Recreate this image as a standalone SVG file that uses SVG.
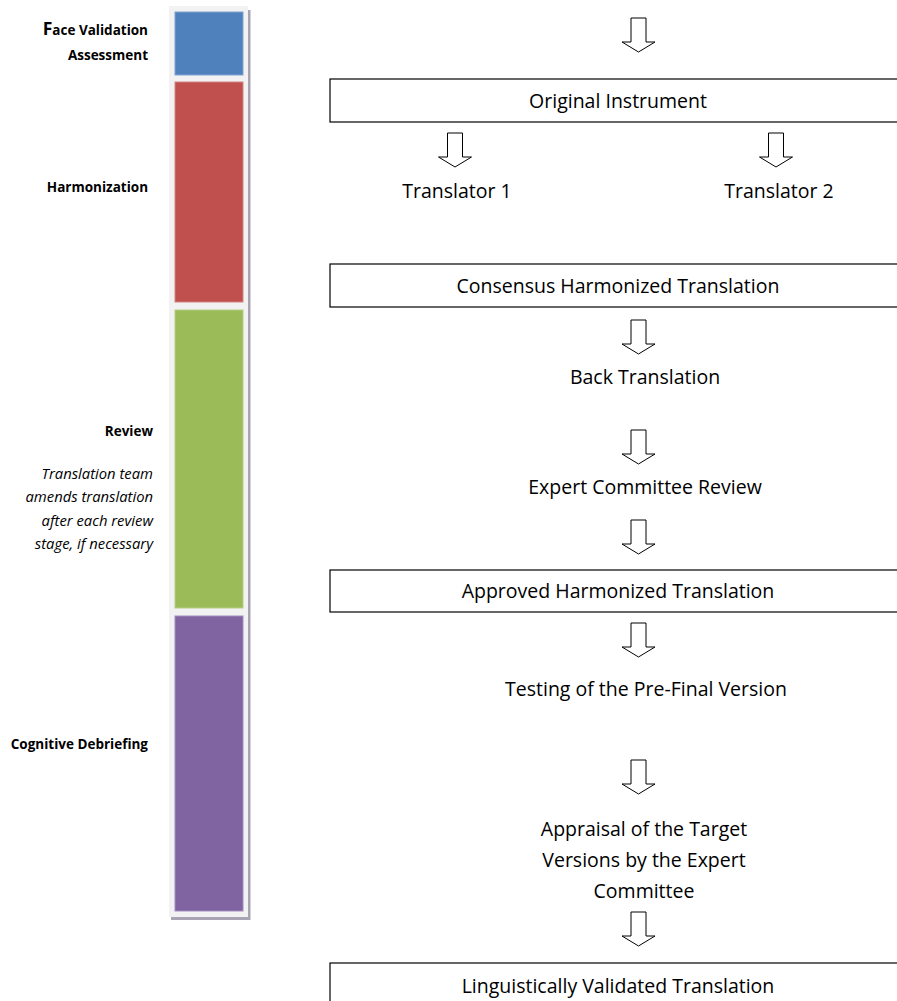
<svg xmlns="http://www.w3.org/2000/svg" width="897" height="1001" viewBox="0 0 897 1001">
<style>
.box{fill:#fff;stroke:#000;stroke-width:1.2}
.t{font-family:"Open Sans","Liberation Sans",Arial,sans-serif;font-size:19.5px;fill:#000;text-anchor:middle}
.lb{font-family:"Open Sans","Liberation Sans",Arial,sans-serif;font-size:13.5px;font-weight:bold;fill:#000;text-anchor:end}
.li{font-family:"Open Sans","Liberation Sans",Arial,sans-serif;font-size:14.8px;font-style:italic;fill:#000;text-anchor:end}
.arr{fill:#fff;stroke:#000;stroke-width:1}
.seg{stroke-width:1}
</style>
<defs>
<path id="a" d="M-7.5,0 H7.5 V24 H16.5 L0,34 L-16.5,24 H-7.5 Z"/>
</defs>
<rect width="897" height="1001" fill="#fff"/>
<g id="bar">
<rect x="248" y="10" width="2.5" height="910" fill="#a8a4b4"/>
<rect x="171" y="917" width="79" height="3" fill="#a8a4b4"/>
<rect x="169" y="6" width="79" height="911" fill="#f2f2f2"/>
<rect id="seg-face" class="seg" x="175" y="12" width="68" height="63" fill="#4f81bd" stroke="#7fa3d0"/>
<rect id="seg-harm" class="seg" x="175" y="82" width="68" height="220" fill="#c0504d" stroke="#d08583"/>
<rect id="seg-review" class="seg" x="175" y="310" width="68" height="298" fill="#9bbb59" stroke="#b6ce86"/>
<rect id="seg-cog" class="seg" x="175" y="616" width="68" height="295" fill="#8064a2" stroke="#a18dbb"/>
</g>
<g id="labels">
<text class="lb" x="148" y="35"><tspan font-size="17.5">F</tspan>ace Validation</text>
<text class="lb" x="148" y="60">Assessment</text>
<text class="lb" x="148" y="192">Harmonization</text>
<text class="lb" x="153" y="436">Review</text>
<text class="li" x="153" y="479">Translation team</text>
<text class="li" x="153" y="502">amends translation</text>
<text class="li" x="153" y="526">after each review</text>
<text class="li" x="153" y="549">stage, if necessary</text>
<text class="lb" x="148" y="749">Cognitive Debriefing</text>
</g>
<g id="connectors">
<use href="#a" class="arr" x="638.5" y="18"/>
<use href="#a" class="arr" x="455" y="133"/>
<use href="#a" class="arr" x="776" y="133"/>
<use href="#a" class="arr" x="638.5" y="320"/>
<use href="#a" class="arr" x="638.5" y="430"/>
<use href="#a" class="arr" x="638.5" y="520"/>
<use href="#a" class="arr" x="638.5" y="623"/>
<use href="#a" class="arr" x="638.5" y="760"/>
<use href="#a" class="arr" x="638.5" y="912"/>
</g>
<g id="n-original"><rect class="box" x="330" y="79" width="580" height="43"/><text class="t" x="618" y="108">Original Instrument</text></g>
<g id="n-translator1"><text class="t" x="457" y="198">Translator 1</text></g>
<g id="n-translator2"><text class="t" x="779" y="198">Translator 2</text></g>
<g id="n-consensus"><rect class="box" x="330" y="264" width="580" height="43"/><text class="t" x="618" y="293">Consensus Harmonized Translation</text></g>
<g id="n-back"><text class="t" x="645" y="384">Back Translation</text></g>
<g id="n-expert"><text class="t" x="645" y="494">Expert Committee Review</text></g>
<g id="n-approved"><rect class="box" x="330" y="570" width="580" height="42"/><text class="t" x="618" y="598">Approved Harmonized Translation</text></g>
<g id="n-testing"><text class="t" x="646" y="696">Testing of the Pre-Final Version</text></g>
<g id="n-appraisal"><text class="t" x="644" y="836">Appraisal of the Target</text><text class="t" x="644" y="867">Versions by the Expert</text><text class="t" x="644" y="898">Committee</text></g>
<g id="n-final"><rect class="box" x="330" y="963" width="580" height="50"/><text class="t" x="618" y="993">Linguistically Validated Translation</text></g>
</svg>
